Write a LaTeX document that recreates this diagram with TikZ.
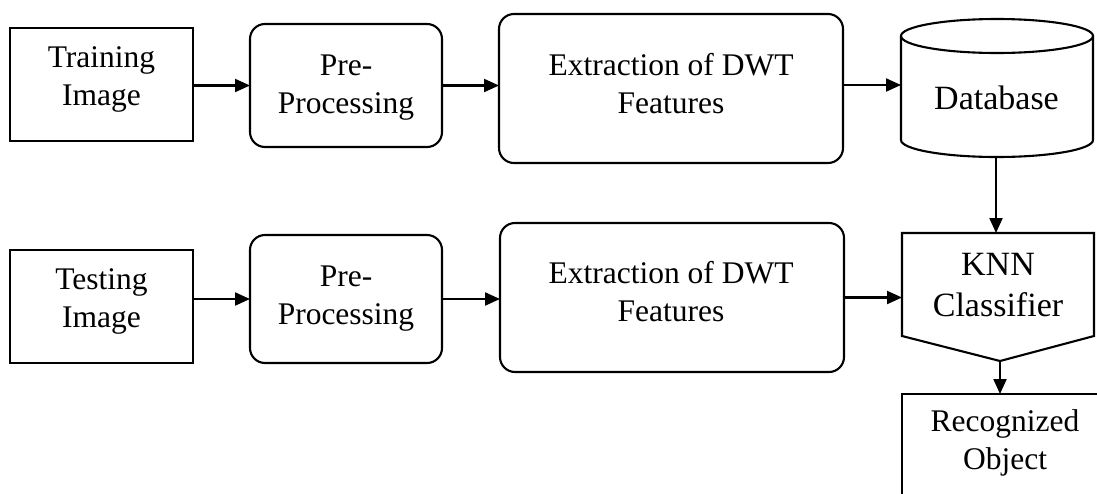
\documentclass[tikz,border=0pt]{standalone}
\usepackage{fontspec}
\setmainfont{Liberation Serif}
\usetikzlibrary{arrows.meta}
\begin{document}
\begin{tikzpicture}[x=1pt,y=1pt,
  lw/.style={line width=2.1pt},
  sqbox/.style={draw, lw, rectangle, inner sep=0pt, outer sep=0pt},
  rbox/.style={sqbox, rounded corners=15pt},
  lbl/.style={font=\fontsize{31.5}{37.5}\selectfont, align=center, inner sep=0pt, anchor=base},
  biglbl/.style={font=\fontsize{34}{41}\selectfont, align=center, inner sep=0pt, anchor=base},
  arr/.style={lw, -{Triangle[length=15pt,width=13pt]}}]
\useasboundingbox (0,0) rectangle (1097,-493);
% boxes
\node[sqbox, minimum width=183pt, minimum height=113pt] (tr) at (101.5,-84.5) {};
\node[rbox, minimum width=192pt, minimum height=123pt] (pre1) at (346,-85.5) {};
\node[rbox, minimum width=344pt, minimum height=149pt] (ext1) at (671,-88.5) {};
\node[sqbox, minimum width=183pt, minimum height=113pt] (te) at (101.5,-306.5) {};
\node[rbox, minimum width=192pt, minimum height=128pt] (pre2) at (346,-299) {};
\node[rbox, minimum width=344pt, minimum height=149pt] (ext2) at (672,-297.5) {};
% database cylinder
\draw[lw] (901,-36) -- (901,-140) arc[start angle=180, end angle=360, x radius=96, y radius=17] -- (1093,-36);
\draw[lw] (997,-36) ellipse [x radius=96, y radius=17];
\coordinate (dbleft) at (901,-85);
\coordinate (dbbot) at (996,-157);
% KNN classifier
\draw[lw, line join=miter] (902,-233) -- (1094,-233) -- (1094,-336) -- (1000,-361) -- (902,-336) -- cycle;
\coordinate (knntop) at (996,-233);
\coordinate (knnleft) at (902,-297);
\coordinate (knntip) at (1000,-361);
% recognized object (cut off)
\begin{scope}
\clip (0,0) rectangle (1097,-493);
\draw[lw] (902,-394) rectangle (1120,-520);
\end{scope}
\coordinate (rectop) at (1000,-394);
% texts (anchor = baseline of last line)
\node[lbl] (trt) at (101.5,-105) {Training\\Image};
\node[lbl] (pre1t) at (346,-113) {Pre-\\Processing};
\node[lbl] (ext1t) at (671,-113) {Extraction of DWT\\Features};
\node[biglbl] (dbt) at (996.5,-109) {Database};
\node[lbl] (tet) at (101.5,-327) {Testing\\Image};
\node[lbl] (pre2t) at (346,-324) {Pre-\\Processing};
\node[lbl] (ext2t) at (671,-321) {Extraction of DWT\\Features};
\node[biglbl] (knnt) at (998,-316) {KNN\\Classifier};
\node[lbl] (rect) at (1005,-469) {Recognized\\Object};
% connectors
\draw[arr] (tr.east |- pre1.west) -- (pre1.west);
\draw[arr] (pre1.east) -- (pre1.east -| ext1.west);
\draw[arr] (ext1.east |- dbleft) -- (dbleft);
\draw[arr] (dbbot) -- (knntop);
\draw[arr] (te.east |- pre2.west) -- (pre2.west);
\draw[arr] (pre2.east) -- (pre2.east -| ext2.west);
\draw[arr] (ext2.east) -- (ext2.east -| knnleft);
\draw[arr] (knntip) -- (rectop);
\end{tikzpicture}
\end{document}
